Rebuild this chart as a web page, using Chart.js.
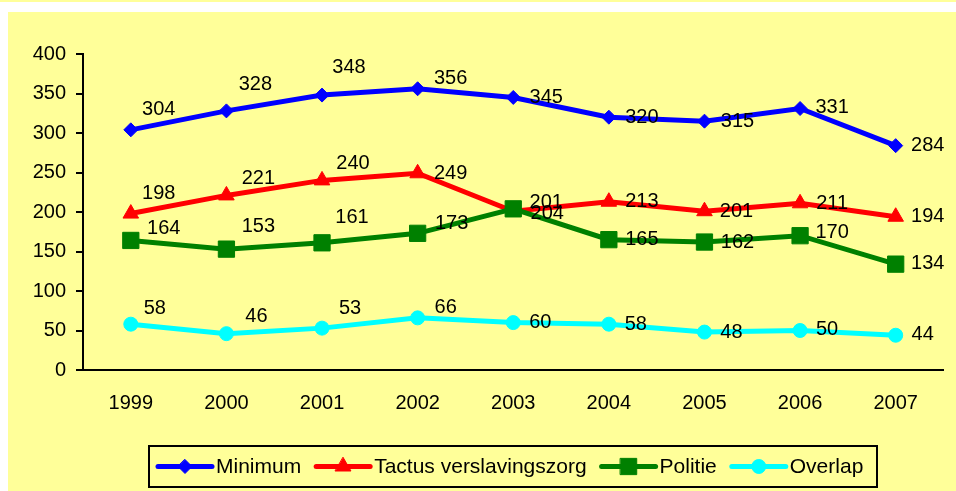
<!DOCTYPE html>
<html>
<head>
<meta charset="utf-8">
<script src="https://cdn.jsdelivr.net/npm/chart.js@4"></script>
<style>
  html, body { margin:0; padding:0; background:#ffffff; width:956px; height:491px; overflow:hidden; }
  #strip { position:absolute; left:0; top:0; width:956px; height:2px; background:#FFFF99; }
  #wrap { position:absolute; left:8px; top:12px; width:948px; height:479px; background:#FFFF99; }
</style>
</head>
<body>
<div id="strip"></div>
<div id="wrap"><canvas id="c"></canvas></div>
<script>
// ---- data ----
const categories = ['1999','2000','2001','2002','2003','2004','2005','2006','2007'];
const minimum  = [304, 328, 348, 356, 345, 320, 315, 331, 284];
const tactus   = [198, 221, 240, 249, 201, 213, 201, 211, 194];
const politie  = [164, 153, 161, 173, 204, 165, 162, 170, 134];
const overlap  = [58, 46, 53, 66, 60, 58, 48, 50, 44];
const seriesNames = ['Minimum', 'Tactus verslavingszorg', 'Politie', 'Overlap'];
const yTickValues = [0, 50, 100, 150, 200, 250, 300, 350, 400];

// ---- label placement (style, px offsets of label centre from its point) ----
const LABEL_OFFSETS = [
  [[28,-20],[29,-26],[27,-28],[33,-10],[33,0],[33,0],[33,0],[32,-1],[32,0]],
  [[28,-20],[32,-17],[31,-17],[33,0],[33,-9],[33,0],[32,0],[32,0],[32,0]],
  [[33,-12],[32,-23],[30,-25],[34,-10],[34,5],[33,0],[33,0],[32,-3],[32,-1]],
  [[24,-16],[30,-17],[28,-20],[28,-10],[27,0],[27,0],[27,0],[27,-1],[27,-1]]
];
const NUM_FONT_FAMILY = '"Liberation Sans", Arial, sans-serif';
const NUM_FONT = '20px ' + NUM_FONT_FAMILY;
const LEGEND_FONT = '21px "Liberation Sans", Arial, sans-serif';

function drawMarker(ctx, style, r, x, y, color) {
  ctx.save();
  ctx.fillStyle = color; ctx.strokeStyle = color; ctx.lineWidth = 1;
  ctx.beginPath();
  if (style === 'rectRot') {
    ctx.moveTo(x, y - r); ctx.lineTo(x + r, y); ctx.lineTo(x, y + r); ctx.lineTo(x - r, y); ctx.closePath();
  } else if (style === 'rect') {
    const s = Math.SQRT1_2 * r;
    ctx.rect(x - s, y - s, 2 * s, 2 * s);
  } else if (style === 'triangle') {
    ctx.moveTo(x, y - r);
    ctx.lineTo(x + r * 0.866, y + r * 0.5);
    ctx.lineTo(x - r * 0.866, y + r * 0.5);
    ctx.closePath();
  } else {
    ctx.arc(x, y, r, 0, Math.PI * 2);
  }
  ctx.fill(); ctx.stroke();
  ctx.restore();
}

const labelPlugin = {
  id: 'labels',
  afterDatasetsDraw(chart) {
    const ctx = chart.ctx;
    ctx.save();
    ctx.font = NUM_FONT;
    ctx.fillStyle = '#000';
    ctx.textAlign = 'center';
    ctx.textBaseline = 'middle';
    chart.data.datasets.forEach((ds, di) => {
      const meta = chart.getDatasetMeta(di);
      meta.data.forEach((pt, i) => {
        const off = LABEL_OFFSETS[di][i];
        ctx.fillText(String(ds.data[i]), pt.x + off[0], pt.y + off[1]);
      });
    });
    ctx.restore();
  }
};

const legendPlugin = {
  id: 'boxLegend',
  afterDraw(chart) {
    const ctx = chart.ctx;
    const ca = chart.chartArea;
    ctx.save();
    ctx.font = LEGEND_FONT;
    const lineLen = 58, gapText = 2, gapItem = 13, padL = 7, padR = 14;
    const items = chart.data.datasets.map(ds => ({ds, w: ctx.measureText(ds.label).width}));
    let total = padL + padR;
    items.forEach((it, i) => { total += lineLen + gapText + it.w + (i < items.length - 1 ? gapItem : 0); });
    const cx = (ca.left + ca.right) / 2;
    const left = Math.round(cx - total / 2);
    const top = 434, h = 41, cy = top + h / 2;
    ctx.lineWidth = 2;
    ctx.strokeStyle = '#000';
    ctx.strokeRect(left, top, Math.round(total), h);
    let x = left + padL;
    items.forEach(it => {
      const ds = it.ds;
      ctx.strokeStyle = ds.borderColor;
      ctx.lineWidth = 5;
      ctx.lineCap = 'round';
      ctx.beginPath(); ctx.moveTo(x + 2, cy); ctx.lineTo(x + lineLen - 2, cy); ctx.stroke();
      drawMarker(ctx, ds.pointStyle, ds.pointRadius, x + lineLen / 2, cy, ds.borderColor);
      x += lineLen + gapText;
      ctx.fillStyle = '#000';
      ctx.textAlign = 'left';
      ctx.textBaseline = 'middle';
      ctx.fillText(ds.label, x, cy + 1);
      x += it.w + gapItem;
    });
    ctx.restore();
  }
};

function makeDs(label, data, color, style, radius, order) {
  return {
    label, data,
    borderColor: color, backgroundColor: color,
    pointBackgroundColor: color, pointBorderColor: color,
    borderWidth: 5, pointStyle: style, pointRadius: radius, pointHoverRadius: radius,
    pointBorderWidth: 1, tension: 0, fill: false, order
  };
}

new Chart(document.getElementById('c'), {
  type: 'line',
  data: {
    labels: categories,
    datasets: [
      makeDs(seriesNames[0], minimum, '#0000FF', 'rectRot', 7, 4),
      makeDs(seriesNames[1], tactus, '#FF0000', 'triangle', 9, 3),
      makeDs(seriesNames[2], politie, '#008000', 'rect', 11.5, 2),
      makeDs(seriesNames[3], overlap, '#00FFFF', 'circle', 7, 1)
    ]
  },
  options: {
    responsive: true,
    maintainAspectRatio: false,
    animation: false,
    events: [],
    layout: { padding: { left: 0, right: 7, top: 42, bottom: 0 } },
    plugins: { legend: { display: false }, tooltip: { enabled: false }, title: { display: false } },
    scales: {
      x: {
        offset: true,
        grid: { display: true, drawOnChartArea: false, drawTicks: false },
        border: { display: true, color: '#000', width: 2 },
        ticks: { color: '#000', font: { family: NUM_FONT_FAMILY, size: 20 }, padding: 21, maxRotation: 0, autoSkip: false },
        afterFit(s) { s.height = 121; }
      },
      y: {
        min: 0, max: 400,
        afterBuildTicks(s) { s.ticks = yTickValues.map(v => ({ value: v })); },
        grid: { display: true, drawOnChartArea: false, drawTicks: true, tickLength: 7, color: '#000', lineWidth: 2 },
        border: { display: true, color: '#000', width: 2 },
        ticks: { color: '#000', font: { family: NUM_FONT_FAMILY, size: 20 }, padding: 10 },
        afterFit(s) { s.width = 75; }
      }
    }
  },
  plugins: [labelPlugin, legendPlugin]
});
</script>
</body>
</html>
